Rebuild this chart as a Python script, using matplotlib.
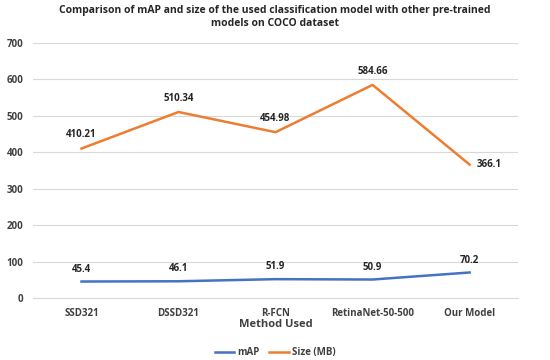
import matplotlib.pyplot as plt

# Data
methods = ['SSD321', 'DSSD321', 'R-FCN', 'RetinaNet-50-500', 'Our Model']
map_vals = [45.4, 46.1, 51.9, 50.9, 70.2]
size_vals = [410.21, 510.34, 454.98, 584.66, 366.1]
size_labels = ['410.21', '510.34', '454.98', '584.66', '366.1']

plt.rcParams['font.family'] = ['Open Sans', 'DejaVu Sans']

fig = plt.figure(figsize=(5.5, 3.6), dpi=100)
ax = fig.add_axes([0.06, 0.172, 0.882, 0.709])

x = list(range(len(methods)))
ax.plot(x, map_vals, color='#4472C4', lw=1.8, label='mAP')
ax.plot(x, size_vals, color='#ED7D31', lw=1.8, label='Size (MB)')

for i, v in enumerate(map_vals):
    ax.annotate(f'{v}', (i, v), xytext=(0, 5), textcoords='offset points',
                ha='center', va='bottom', fontsize=7, fontweight='bold', color='#262626')
for i, v in enumerate(size_vals):
    if i == len(size_vals) - 1:
        ax.annotate(size_labels[i], (i, v), xytext=(5, 0), textcoords='offset points',
                    ha='left', va='center', fontsize=7, fontweight='bold', color='#262626')
    else:
        ax.annotate(size_labels[i], (i, v), xytext=(0, 6), textcoords='offset points',
                    ha='center', va='bottom', fontsize=7, fontweight='bold', color='#262626')

ax.set_xlim(-0.5, len(methods) - 0.5)
ax.set_ylim(0, 700)
ax.set_yticks(range(0, 701, 100))
ax.set_xticks(x)
ax.set_xticklabels(methods)
ax.grid(axis='y', color='#D9D9D9', lw=0.8)
ax.set_axisbelow(True)
for s in ['top', 'right', 'left']:
    ax.spines[s].set_visible(False)
ax.spines['bottom'].set_color('#D9D9D9')
ax.tick_params(length=0, labelsize=7, labelcolor='#404040', pad=7)
for lbl in ax.get_xticklabels() + ax.get_yticklabels():
    lbl.set_fontweight('bold')

ax.set_xlabel('Method Used', fontsize=8, fontweight='bold', color='#404040', labelpad=0)
fig.suptitle('Comparison of mAP and size of the used classification model with other pre-trained\nmodels on COCO dataset',
             fontsize=7.5, fontweight='bold', color='#262626', y=0.985)

fig.legend(loc='lower center', bbox_to_anchor=(0.5, -0.02), ncol=2, frameon=False,
           fontsize=7, handlelength=2, handletextpad=0.3, columnspacing=1)
for t in fig.legends[0].get_texts():
    t.set_fontweight('bold')
    t.set_color('#404040')

fig.savefig('out.png', dpi=100)
